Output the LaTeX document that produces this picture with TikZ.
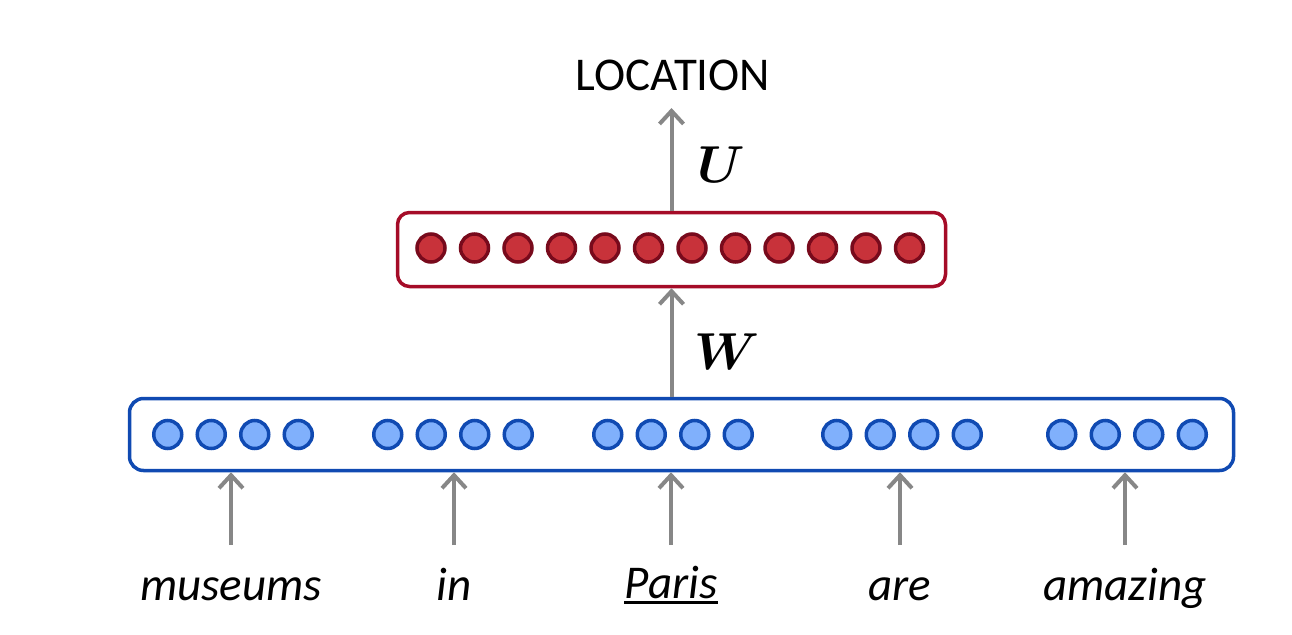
\documentclass[tikz,border=0pt]{standalone}
\usepackage{fix-cm}
\usepackage{amsmath}
\usepackage{bm}
\usepackage{fontspec}
\setmainfont{Carlito}
\usetikzlibrary{arrows.meta}

\definecolor{unitblue}{RGB}{128,176,252}
\definecolor{edgeblue}{RGB}{16,74,178}
\definecolor{unitred}{RGB}{200,50,58}
\definecolor{edgered}{RGB}{120,10,28}
\definecolor{boxred}{RGB}{165,12,40}
\definecolor{arrowgray}{RGB}{135,135,135}

\tikzset{
  flow/.style={draw=arrowgray, line width=4pt, -{Straight Barb[length=13pt,width=24pt,line width=4pt]}},
  bluebox/.style={draw=edgeblue, line width=3.5pt, rounded corners=14pt, minimum width=1104pt, minimum height=72pt, inner sep=0pt},
  redbox/.style={draw=boxred, line width=3.5pt, rounded corners=12pt, minimum width=548pt, minimum height=74pt, inner sep=0pt},
  blueunit/.style={circle, fill=unitblue, draw=edgeblue, line width=3.5pt, minimum size=28pt, inner sep=0pt},
  redunit/.style={circle, fill=unitred, draw=edgered, line width=3.5pt, minimum size=28pt, inner sep=0pt},
  word/.style={font=\fontsize{47}{54}\selectfont\itshape, anchor=base, inner xsep=0pt},
  wlabel/.style={font=\fontsize{52}{58}\selectfont, anchor=west, inner sep=0pt}
}

\begin{document}
\begin{tikzpicture}[x=1pt, y=-1pt]

\useasboundingbox (0,0) rectangle (1292,634);

% === INPUT WINDOW ===
\node[bluebox] (window) at (681.5,434.5) {};
\foreach \g/\cx in {1/233, 2/453, 3/673, 4/902, 5/1127} {
  \foreach \k in {1,...,4} {
    \node[blueunit] (b\g\k) at ({\cx + 43.5*(\k-2.5)},434.5) {};
  }
}

% === WORDS ===
\node[word] (w1) at (231,600) {museums};
\node[word] (w2) at (454,600) {in};
\node[word] (w3) at (671,598) {Paris};
\node[word] (w4) at (900,600) {are};
\node[word] (w5) at (1125,600) {amazing};
\draw[line width=3pt] ([yshift=-4.5pt]w3.base west) -- ([yshift=-4.5pt]w3.base east);
\foreach \g in {1,...,5} {
  \coordinate (foot\g) at (w\g.base |- 0,545);
  \draw[flow] (foot\g) -- (foot\g |- window.south);
}

% === HIDDEN LAYER ===
\node[redbox] (hidden) at (671.5,249.5) {};
\foreach \k in {1,...,12} {
  \node[redunit] (r\k) at ({431 + 43.5*(\k-1)},248) {};
}
\draw[flow] (window.north -| hidden.south) -- (hidden.south);
\node[wlabel] (W) at (694,352) {$\bm{W}$};

% === OUTPUT ===
\node[font=\fontsize{47}{54}\selectfont] (out) at (673,75) {LOCATION};
\draw[flow] (hidden.north) -- (hidden.north |- 0,108);
\node[wlabel] (U) at (697,165) {$\bm{U}$};

\end{tikzpicture}
\end{document}
